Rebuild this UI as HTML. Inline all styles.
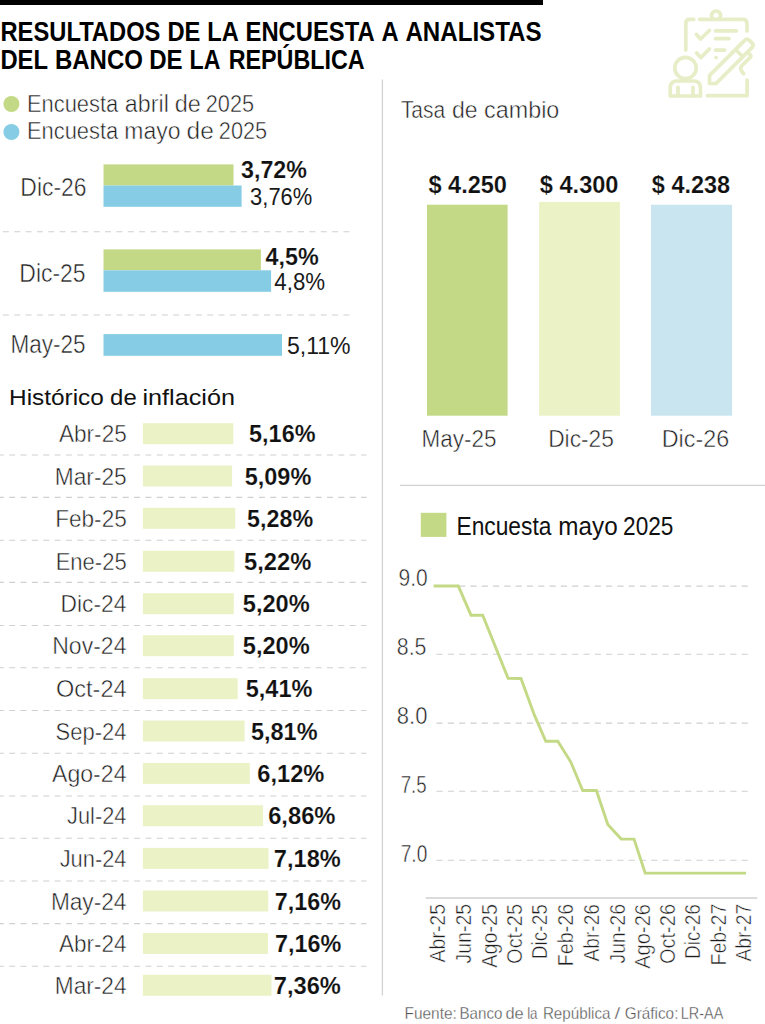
<!DOCTYPE html>
<html><head><meta charset="utf-8"><title>Encuesta Banco de la República</title>
<style>
html,body{margin:0;padding:0;background:#fff;}
body{width:765px;height:1024px;overflow:hidden;}
svg{display:block;font-family:"Liberation Sans",sans-serif;}
</style></head><body>
<svg width="765" height="1024" viewBox="0 0 765 1024">
<rect width="765" height="1024" fill="#fff"/>
<rect x="0.00" y="0.00" width="543.00" height="5.00" fill="#000"/>
<text x="0.46" y="41.00" font-size="27.62" font-weight="bold" fill="#000" textLength="160.00" lengthAdjust="spacingAndGlyphs">RESULTADOS</text>
<text x="167.46" y="41.00" font-size="27.62" font-weight="bold" fill="#000" textLength="32.97" lengthAdjust="spacingAndGlyphs">DE</text>
<text x="207.36" y="41.00" font-size="27.62" font-weight="bold" fill="#000" textLength="31.50" lengthAdjust="spacingAndGlyphs">LA</text>
<text x="245.55" y="41.00" font-size="27.62" font-weight="bold" fill="#000" textLength="129.18" lengthAdjust="spacingAndGlyphs">ENCUESTA</text>
<text x="381.41" y="41.00" font-size="27.62" font-weight="bold" fill="#000" textLength="17.14" lengthAdjust="spacingAndGlyphs">A</text>
<text x="405.40" y="41.00" font-size="27.62" font-weight="bold" fill="#000" textLength="136.22" lengthAdjust="spacingAndGlyphs">ANALISTAS</text>
<text x="0.45" y="69.00" font-size="27.62" font-weight="bold" fill="#000" textLength="47.56" lengthAdjust="spacingAndGlyphs">DEL</text>
<text x="54.94" y="69.00" font-size="27.62" font-weight="bold" fill="#000" textLength="87.96" lengthAdjust="spacingAndGlyphs">BANCO</text>
<text x="149.14" y="69.00" font-size="27.62" font-weight="bold" fill="#000" textLength="33.41" lengthAdjust="spacingAndGlyphs">DE</text>
<text x="189.50" y="69.00" font-size="27.62" font-weight="bold" fill="#000" textLength="30.85" lengthAdjust="spacingAndGlyphs">LA</text>
<text x="228.68" y="69.00" font-size="27.62" font-weight="bold" fill="#000" textLength="135.98" lengthAdjust="spacingAndGlyphs">REPÚBLICA</text>
<circle cx="11.4" cy="104" r="8" fill="#c4d985"/>
<circle cx="11.4" cy="132" r="8" fill="#86cce4"/>
<text x="26.95" y="111.50" font-size="23.98" font-weight="normal" fill="#1e1e1e" textLength="91.34" lengthAdjust="spacingAndGlyphs" stroke="#fff" stroke-width="0.5">Encuesta</text>
<text x="124.87" y="111.50" font-size="23.98" font-weight="normal" fill="#1e1e1e" textLength="43.94" lengthAdjust="spacingAndGlyphs" stroke="#fff" stroke-width="0.5">abril</text>
<text x="174.66" y="111.50" font-size="23.98" font-weight="normal" fill="#1e1e1e" textLength="26.05" lengthAdjust="spacingAndGlyphs" stroke="#fff" stroke-width="0.5">de</text>
<text x="205.71" y="111.50" font-size="23.98" font-weight="normal" fill="#1e1e1e" textLength="48.35" lengthAdjust="spacingAndGlyphs" stroke="#fff" stroke-width="0.5">2025</text>
<text x="26.95" y="139.00" font-size="23.98" font-weight="normal" fill="#1e1e1e" textLength="91.34" lengthAdjust="spacingAndGlyphs" stroke="#fff" stroke-width="0.5">Encuesta</text>
<text x="124.31" y="139.00" font-size="23.98" font-weight="normal" fill="#1e1e1e" textLength="56.12" lengthAdjust="spacingAndGlyphs" stroke="#fff" stroke-width="0.5">mayo</text>
<text x="186.62" y="139.00" font-size="23.98" font-weight="normal" fill="#1e1e1e" textLength="27.24" lengthAdjust="spacingAndGlyphs" stroke="#fff" stroke-width="0.5">de</text>
<text x="218.81" y="139.00" font-size="23.98" font-weight="normal" fill="#1e1e1e" textLength="48.35" lengthAdjust="spacingAndGlyphs" stroke="#fff" stroke-width="0.5">2025</text>
<rect x="103.50" y="164.40" width="130.00" height="21.10" fill="#c4d985"/>
<rect x="103.50" y="185.50" width="138.10" height="21.30" fill="#86cce4"/>
<rect x="103.50" y="249.40" width="157.40" height="20.90" fill="#c4d985"/>
<rect x="103.50" y="270.30" width="167.60" height="21.50" fill="#86cce4"/>
<rect x="103.50" y="334.10" width="178.50" height="21.70" fill="#86cce4"/>
<text x="20.37" y="195.60" font-size="25.44" font-weight="normal" fill="#1e1e1e" textLength="66.14" lengthAdjust="spacingAndGlyphs" stroke="#fff" stroke-width="0.5">Dic-26</text>
<text x="19.37" y="282.00" font-size="25.44" font-weight="normal" fill="#1e1e1e" textLength="66.25" lengthAdjust="spacingAndGlyphs" stroke="#fff" stroke-width="0.5">Dic-25</text>
<text x="10.40" y="353.00" font-size="25.44" font-weight="normal" fill="#1e1e1e" textLength="75.20" lengthAdjust="spacingAndGlyphs" stroke="#fff" stroke-width="0.5">May-25</text>
<text x="241.02" y="177.90" font-size="23.98" font-weight="bold" fill="#111" textLength="65.87" lengthAdjust="spacingAndGlyphs" stroke="#fff" stroke-width="0.15">3,72%</text>
<text x="250.12" y="205.30" font-size="23.98" font-weight="normal" fill="#1a1a1a" textLength="62.15" lengthAdjust="spacingAndGlyphs">3,76%</text>
<text x="265.55" y="265.40" font-size="23.98" font-weight="bold" fill="#111" textLength="53.12" lengthAdjust="spacingAndGlyphs" stroke="#fff" stroke-width="0.15">4,5%</text>
<text x="274.35" y="289.90" font-size="23.98" font-weight="normal" fill="#1a1a1a" textLength="50.81" lengthAdjust="spacingAndGlyphs">4,8%</text>
<text x="286.88" y="353.70" font-size="23.98" font-weight="normal" fill="#1a1a1a" textLength="63.76" lengthAdjust="spacingAndGlyphs">5,11%</text>
<line x1="2.90" y1="231.80" x2="349.80" y2="231.80" stroke="#d0d0d0" stroke-width="1.10" stroke-dasharray="6.00 5.35" stroke-dashoffset="0.00"/>
<line x1="2.90" y1="315.00" x2="349.80" y2="315.00" stroke="#d0d0d0" stroke-width="1.10" stroke-dasharray="6.00 5.35" stroke-dashoffset="0.00"/>
<text x="9.05" y="404.80" font-size="22.53" font-weight="normal" fill="#111" textLength="94.82" lengthAdjust="spacingAndGlyphs">Histórico</text>
<text x="110.14" y="404.80" font-size="22.53" font-weight="normal" fill="#111" textLength="26.59" lengthAdjust="spacingAndGlyphs">de</text>
<text x="142.46" y="404.80" font-size="22.53" font-weight="normal" fill="#111" textLength="92.56" lengthAdjust="spacingAndGlyphs">inflación</text>
<rect x="142.90" y="423.20" width="90.40" height="21.00" fill="#ebf2c6"/>
<text x="59.00" y="442.20" font-size="24.71" font-weight="normal" fill="#1e1e1e" textLength="67.74" lengthAdjust="spacingAndGlyphs" stroke="#fff" stroke-width="0.5">Abr-25</text>
<text x="249.10" y="442.20" font-size="23.98" font-weight="bold" fill="#111" textLength="66.40" lengthAdjust="spacingAndGlyphs" stroke="#fff" stroke-width="0.15">5,16%</text>
<rect x="142.90" y="465.50" width="89.20" height="21.00" fill="#ebf2c6"/>
<text x="54.78" y="484.50" font-size="24.71" font-weight="normal" fill="#1e1e1e" textLength="71.99" lengthAdjust="spacingAndGlyphs" stroke="#fff" stroke-width="0.5">Mar-25</text>
<text x="244.70" y="484.50" font-size="23.98" font-weight="bold" fill="#111" textLength="66.60" lengthAdjust="spacingAndGlyphs" stroke="#fff" stroke-width="0.15">5,09%</text>
<rect x="142.90" y="507.80" width="92.30" height="21.00" fill="#ebf2c6"/>
<text x="55.19" y="526.80" font-size="24.71" font-weight="normal" fill="#1e1e1e" textLength="71.59" lengthAdjust="spacingAndGlyphs" stroke="#fff" stroke-width="0.5">Feb-25</text>
<text x="247.10" y="526.80" font-size="23.98" font-weight="bold" fill="#111" textLength="65.99" lengthAdjust="spacingAndGlyphs" stroke="#fff" stroke-width="0.15">5,28%</text>
<rect x="142.90" y="550.80" width="91.50" height="21.00" fill="#ebf2c6"/>
<text x="55.64" y="569.80" font-size="24.71" font-weight="normal" fill="#1e1e1e" textLength="71.04" lengthAdjust="spacingAndGlyphs" stroke="#fff" stroke-width="0.5">Ene-25</text>
<text x="244.09" y="569.80" font-size="23.98" font-weight="bold" fill="#111" textLength="67.21" lengthAdjust="spacingAndGlyphs" stroke="#fff" stroke-width="0.15">5,22%</text>
<rect x="142.90" y="593.20" width="90.90" height="21.00" fill="#ebf2c6"/>
<text x="60.58" y="612.20" font-size="24.71" font-weight="normal" fill="#1e1e1e" textLength="65.90" lengthAdjust="spacingAndGlyphs" stroke="#fff" stroke-width="0.5">Dic-24</text>
<text x="242.79" y="612.20" font-size="23.98" font-weight="bold" fill="#111" textLength="66.91" lengthAdjust="spacingAndGlyphs" stroke="#fff" stroke-width="0.15">5,20%</text>
<rect x="142.90" y="635.20" width="90.90" height="21.00" fill="#ebf2c6"/>
<text x="52.26" y="654.20" font-size="24.71" font-weight="normal" fill="#1e1e1e" textLength="74.20" lengthAdjust="spacingAndGlyphs" stroke="#fff" stroke-width="0.5">Nov-24</text>
<text x="242.79" y="654.20" font-size="23.98" font-weight="bold" fill="#111" textLength="66.91" lengthAdjust="spacingAndGlyphs" stroke="#fff" stroke-width="0.15">5,20%</text>
<rect x="142.90" y="678.20" width="94.80" height="21.00" fill="#ebf2c6"/>
<text x="56.04" y="697.20" font-size="24.71" font-weight="normal" fill="#1e1e1e" textLength="70.49" lengthAdjust="spacingAndGlyphs" stroke="#fff" stroke-width="0.5">Oct-24</text>
<text x="245.69" y="697.20" font-size="23.98" font-weight="bold" fill="#111" textLength="66.70" lengthAdjust="spacingAndGlyphs" stroke="#fff" stroke-width="0.15">5,41%</text>
<rect x="142.90" y="720.50" width="101.70" height="21.00" fill="#ebf2c6"/>
<text x="55.61" y="739.50" font-size="24.71" font-weight="normal" fill="#1e1e1e" textLength="70.84" lengthAdjust="spacingAndGlyphs" stroke="#fff" stroke-width="0.5">Sep-24</text>
<text x="251.00" y="739.50" font-size="23.98" font-weight="bold" fill="#111" textLength="66.50" lengthAdjust="spacingAndGlyphs" stroke="#fff" stroke-width="0.15">5,81%</text>
<rect x="142.90" y="762.90" width="106.90" height="21.00" fill="#ebf2c6"/>
<text x="52.00" y="781.90" font-size="24.71" font-weight="normal" fill="#1e1e1e" textLength="74.49" lengthAdjust="spacingAndGlyphs" stroke="#fff" stroke-width="0.5">Ago-24</text>
<text x="257.27" y="781.90" font-size="23.98" font-weight="bold" fill="#111" textLength="67.13" lengthAdjust="spacingAndGlyphs" stroke="#fff" stroke-width="0.15">6,12%</text>
<rect x="142.90" y="805.20" width="120.20" height="21.00" fill="#ebf2c6"/>
<text x="67.07" y="824.20" font-size="24.71" font-weight="normal" fill="#1e1e1e" textLength="59.35" lengthAdjust="spacingAndGlyphs" stroke="#fff" stroke-width="0.5">Jul-24</text>
<text x="268.17" y="824.20" font-size="23.98" font-weight="bold" fill="#111" textLength="67.34" lengthAdjust="spacingAndGlyphs" stroke="#fff" stroke-width="0.15">6,86%</text>
<rect x="142.90" y="847.90" width="125.60" height="21.00" fill="#ebf2c6"/>
<text x="59.67" y="866.90" font-size="24.71" font-weight="normal" fill="#1e1e1e" textLength="66.84" lengthAdjust="spacingAndGlyphs" stroke="#fff" stroke-width="0.5">Jun-24</text>
<text x="273.86" y="866.90" font-size="23.98" font-weight="bold" fill="#111" textLength="66.84" lengthAdjust="spacingAndGlyphs" stroke="#fff" stroke-width="0.15">7,18%</text>
<rect x="142.90" y="890.50" width="125.30" height="21.00" fill="#ebf2c6"/>
<text x="50.89" y="909.50" font-size="24.71" font-weight="normal" fill="#1e1e1e" textLength="75.58" lengthAdjust="spacingAndGlyphs" stroke="#fff" stroke-width="0.5">May-24</text>
<text x="274.87" y="909.50" font-size="23.98" font-weight="bold" fill="#111" textLength="66.13" lengthAdjust="spacingAndGlyphs" stroke="#fff" stroke-width="0.15">7,16%</text>
<rect x="142.90" y="933.00" width="125.10" height="21.00" fill="#ebf2c6"/>
<text x="59.00" y="952.00" font-size="24.71" font-weight="normal" fill="#1e1e1e" textLength="67.51" lengthAdjust="spacingAndGlyphs" stroke="#fff" stroke-width="0.5">Abr-24</text>
<text x="275.07" y="952.00" font-size="23.98" font-weight="bold" fill="#111" textLength="66.23" lengthAdjust="spacingAndGlyphs" stroke="#fff" stroke-width="0.15">7,16%</text>
<rect x="142.90" y="974.80" width="128.60" height="21.00" fill="#ebf2c6"/>
<text x="54.79" y="993.80" font-size="24.71" font-weight="normal" fill="#1e1e1e" textLength="71.75" lengthAdjust="spacingAndGlyphs" stroke="#fff" stroke-width="0.5">Mar-24</text>
<text x="273.85" y="993.80" font-size="23.98" font-weight="bold" fill="#111" textLength="67.05" lengthAdjust="spacingAndGlyphs" stroke="#fff" stroke-width="0.15">7,36%</text>
<line x1="0.00" y1="455.00" x2="366.40" y2="455.00" stroke="#d0d0d0" stroke-width="1.10" stroke-dasharray="6.00 5.35" stroke-dashoffset="2.15"/>
<line x1="0.00" y1="497.40" x2="366.40" y2="497.40" stroke="#d0d0d0" stroke-width="1.10" stroke-dasharray="6.00 5.35" stroke-dashoffset="2.15"/>
<line x1="0.00" y1="540.20" x2="366.40" y2="540.20" stroke="#d0d0d0" stroke-width="1.10" stroke-dasharray="6.00 5.35" stroke-dashoffset="2.15"/>
<line x1="0.00" y1="582.40" x2="366.40" y2="582.40" stroke="#d0d0d0" stroke-width="1.10" stroke-dasharray="6.00 5.35" stroke-dashoffset="2.15"/>
<line x1="0.00" y1="625.50" x2="366.40" y2="625.50" stroke="#d0d0d0" stroke-width="1.10" stroke-dasharray="6.00 5.35" stroke-dashoffset="2.15"/>
<line x1="0.00" y1="667.80" x2="366.40" y2="667.80" stroke="#d0d0d0" stroke-width="1.10" stroke-dasharray="6.00 5.35" stroke-dashoffset="2.15"/>
<line x1="0.00" y1="710.50" x2="366.40" y2="710.50" stroke="#d0d0d0" stroke-width="1.10" stroke-dasharray="6.00 5.35" stroke-dashoffset="2.15"/>
<line x1="0.00" y1="753.30" x2="366.40" y2="753.30" stroke="#d0d0d0" stroke-width="1.10" stroke-dasharray="6.00 5.35" stroke-dashoffset="2.15"/>
<line x1="0.00" y1="796.00" x2="366.40" y2="796.00" stroke="#d0d0d0" stroke-width="1.10" stroke-dasharray="6.00 5.35" stroke-dashoffset="2.15"/>
<line x1="0.00" y1="838.30" x2="366.40" y2="838.30" stroke="#d0d0d0" stroke-width="1.10" stroke-dasharray="6.00 5.35" stroke-dashoffset="2.15"/>
<line x1="0.00" y1="881.00" x2="366.40" y2="881.00" stroke="#d0d0d0" stroke-width="1.10" stroke-dasharray="6.00 5.35" stroke-dashoffset="2.15"/>
<line x1="0.00" y1="923.60" x2="366.40" y2="923.60" stroke="#d0d0d0" stroke-width="1.10" stroke-dasharray="6.00 5.35" stroke-dashoffset="2.15"/>
<line x1="0.00" y1="966.30" x2="366.40" y2="966.30" stroke="#d0d0d0" stroke-width="1.10" stroke-dasharray="6.00 5.35" stroke-dashoffset="2.15"/>
<line x1="382.4" y1="79.6" x2="382.4" y2="995.6" stroke="#d2d2d2" stroke-width="1.3"/>
<text x="400.88" y="117.70" font-size="24.71" font-weight="normal" fill="#1e1e1e" textLength="44.27" lengthAdjust="spacingAndGlyphs" stroke="#fff" stroke-width="0.5">Tasa</text>
<text x="451.98" y="117.70" font-size="24.71" font-weight="normal" fill="#1e1e1e" textLength="25.61" lengthAdjust="spacingAndGlyphs" stroke="#fff" stroke-width="0.5">de</text>
<text x="484.07" y="117.70" font-size="24.71" font-weight="normal" fill="#1e1e1e" textLength="75.24" lengthAdjust="spacingAndGlyphs" stroke="#fff" stroke-width="0.5">cambio</text>
<text x="428.45" y="193.00" font-size="23.98" font-weight="bold" fill="#111" textLength="78.53" lengthAdjust="spacingAndGlyphs" stroke="#fff" stroke-width="0.15">$ 4.250</text>
<text x="539.85" y="193.00" font-size="23.98" font-weight="bold" fill="#111" textLength="78.63" lengthAdjust="spacingAndGlyphs" stroke="#fff" stroke-width="0.15">$ 4.300</text>
<text x="651.85" y="193.00" font-size="23.98" font-weight="bold" fill="#111" textLength="78.29" lengthAdjust="spacingAndGlyphs" stroke="#fff" stroke-width="0.15">$ 4.238</text>
<rect x="427.00" y="204.70" width="80.60" height="211.00" fill="#c4d985"/>
<rect x="539.10" y="201.90" width="80.80" height="213.80" fill="#ebf2c6"/>
<rect x="651.00" y="204.70" width="81.10" height="211.00" fill="#c9e6f0"/>
<text x="421.50" y="446.80" font-size="23.98" font-weight="normal" fill="#1e1e1e" textLength="74.89" lengthAdjust="spacingAndGlyphs" stroke="#fff" stroke-width="0.5">May-25</text>
<text x="548.18" y="447.20" font-size="23.98" font-weight="normal" fill="#1e1e1e" textLength="65.72" lengthAdjust="spacingAndGlyphs" stroke="#fff" stroke-width="0.5">Dic-25</text>
<text x="661.73" y="447.20" font-size="23.98" font-weight="normal" fill="#1e1e1e" textLength="67.39" lengthAdjust="spacingAndGlyphs" stroke="#fff" stroke-width="0.5">Dic-26</text>
<line x1="400" y1="485.3" x2="765" y2="485.3" stroke="#d2d2d2" stroke-width="1.3"/>
<rect x="420.80" y="512.80" width="25.60" height="24.10" fill="#c4d985"/>
<text x="456.48" y="534.60" font-size="25.15" font-weight="normal" fill="#111" textLength="94.91" lengthAdjust="spacingAndGlyphs">Encuesta</text>
<text x="558.32" y="534.60" font-size="25.15" font-weight="normal" fill="#111" textLength="59.36" lengthAdjust="spacingAndGlyphs">mayo</text>
<text x="623.07" y="534.60" font-size="25.15" font-weight="normal" fill="#111" textLength="50.33" lengthAdjust="spacingAndGlyphs">2025</text>
<text x="398.46" y="585.90" font-size="24.27" font-weight="normal" fill="#1e1e1e" textLength="29.18" lengthAdjust="spacingAndGlyphs" stroke="#fff" stroke-width="0.5">9.0</text>
<text x="396.84" y="654.80" font-size="24.27" font-weight="normal" fill="#1e1e1e" textLength="29.61" lengthAdjust="spacingAndGlyphs" stroke="#fff" stroke-width="0.5">8.5</text>
<text x="396.81" y="723.90" font-size="24.27" font-weight="normal" fill="#1e1e1e" textLength="30.56" lengthAdjust="spacingAndGlyphs" stroke="#fff" stroke-width="0.5">8.0</text>
<text x="400.77" y="792.70" font-size="24.27" font-weight="normal" fill="#1e1e1e" textLength="25.88" lengthAdjust="spacingAndGlyphs" stroke="#fff" stroke-width="0.5">7.5</text>
<text x="400.75" y="861.50" font-size="24.27" font-weight="normal" fill="#1e1e1e" textLength="26.52" lengthAdjust="spacingAndGlyphs" stroke="#fff" stroke-width="0.5">7.0</text>
<line x1="435.00" y1="586.10" x2="747.80" y2="586.10" stroke="#d0d0d0" stroke-width="1.10" stroke-dasharray="6.20 5.10" stroke-dashoffset="9.80"/>
<line x1="435.00" y1="654.20" x2="747.80" y2="654.20" stroke="#d0d0d0" stroke-width="1.10" stroke-dasharray="6.20 5.10" stroke-dashoffset="9.80"/>
<line x1="435.00" y1="723.10" x2="747.80" y2="723.10" stroke="#d0d0d0" stroke-width="1.10" stroke-dasharray="6.20 5.10" stroke-dashoffset="9.80"/>
<line x1="435.00" y1="791.20" x2="747.80" y2="791.20" stroke="#d0d0d0" stroke-width="1.10" stroke-dasharray="6.20 5.10" stroke-dashoffset="9.80"/>
<line x1="435.00" y1="860.30" x2="747.80" y2="860.30" stroke="#d0d0d0" stroke-width="1.10" stroke-dasharray="6.20 5.10" stroke-dashoffset="9.80"/>
<line x1="425.6" y1="898" x2="757.2" y2="898" stroke="#cfcfcf" stroke-width="1.3"/>
<polyline points="433.6,586.0 458.3,586.0 471.0,615.2 482.7,615.2 508.1,678.2 521.0,678.5 534.3,714.9 545.8,741.3 557.8,741.3 570.7,761.8 582.7,790.5 596.4,790.5 607.8,824.5 621.2,839.1 634.0,839.1 645.2,873.1 746.1,873.1" fill="none" stroke="#c4d985" stroke-width="2.9" stroke-linejoin="miter"/>
<text transform="translate(445.10 0) rotate(-90)" x="-962.40" y="0" font-size="22.38" fill="#1e1e1e" stroke="#fff" stroke-width="0.5" textLength="58.41" lengthAdjust="spacingAndGlyphs">Abr-25</text>
<text transform="translate(470.70 0) rotate(-90)" x="-963.39" y="0" font-size="22.38" fill="#1e1e1e" stroke="#fff" stroke-width="0.5" textLength="59.42" lengthAdjust="spacingAndGlyphs">Jun-25</text>
<text transform="translate(496.60 0) rotate(-90)" x="-967.80" y="0" font-size="22.38" fill="#1e1e1e" stroke="#fff" stroke-width="0.5" textLength="63.79" lengthAdjust="spacingAndGlyphs">Ago-25</text>
<text transform="translate(521.70 0) rotate(-90)" x="-963.90" y="0" font-size="22.38" fill="#1e1e1e" stroke="#fff" stroke-width="0.5" textLength="59.92" lengthAdjust="spacingAndGlyphs">Oct-25</text>
<text transform="translate(547.40 0) rotate(-90)" x="-959.33" y="0" font-size="22.38" fill="#1e1e1e" stroke="#fff" stroke-width="0.5" textLength="55.29" lengthAdjust="spacingAndGlyphs">Dic-25</text>
<text transform="translate(573.30 0) rotate(-90)" x="-966.17" y="0" font-size="22.38" fill="#1e1e1e" stroke="#fff" stroke-width="0.5" textLength="62.23" lengthAdjust="spacingAndGlyphs">Feb-26</text>
<text transform="translate(599.30 0) rotate(-90)" x="-961.40" y="0" font-size="22.38" fill="#1e1e1e" stroke="#fff" stroke-width="0.5" textLength="57.40" lengthAdjust="spacingAndGlyphs">Abr-26</text>
<text transform="translate(624.60 0) rotate(-90)" x="-963.59" y="0" font-size="22.38" fill="#1e1e1e" stroke="#fff" stroke-width="0.5" textLength="59.63" lengthAdjust="spacingAndGlyphs">Jun-26</text>
<text transform="translate(650.20 0) rotate(-90)" x="-968.80" y="0" font-size="22.38" fill="#1e1e1e" stroke="#fff" stroke-width="0.5" textLength="64.80" lengthAdjust="spacingAndGlyphs">Ago-26</text>
<text transform="translate(675.30 0) rotate(-90)" x="-964.00" y="0" font-size="22.38" fill="#1e1e1e" stroke="#fff" stroke-width="0.5" textLength="60.02" lengthAdjust="spacingAndGlyphs">Oct-26</text>
<text transform="translate(700.40 0) rotate(-90)" x="-959.12" y="0" font-size="22.38" fill="#1e1e1e" stroke="#fff" stroke-width="0.5" textLength="55.08" lengthAdjust="spacingAndGlyphs">Dic-26</text>
<text transform="translate(726.30 0) rotate(-90)" x="-965.46" y="0" font-size="22.38" fill="#1e1e1e" stroke="#fff" stroke-width="0.5" textLength="61.70" lengthAdjust="spacingAndGlyphs">Feb-27</text>
<text transform="translate(751.40 0) rotate(-90)" x="-961.60" y="0" font-size="22.38" fill="#1e1e1e" stroke="#fff" stroke-width="0.5" textLength="57.79" lengthAdjust="spacingAndGlyphs">Abr-27</text>
<text x="404.57" y="1018.90" font-size="16.28" font-weight="normal" fill="#555" textLength="52.24" lengthAdjust="spacingAndGlyphs" stroke="#fff" stroke-width="0.3">Fuente:</text>
<text x="459.49" y="1018.90" font-size="16.28" font-weight="normal" fill="#555" textLength="42.92" lengthAdjust="spacingAndGlyphs" stroke="#fff" stroke-width="0.3">Banco</text>
<text x="505.44" y="1018.90" font-size="16.28" font-weight="normal" fill="#555" textLength="18.23" lengthAdjust="spacingAndGlyphs" stroke="#fff" stroke-width="0.3">de</text>
<text x="527.13" y="1018.90" font-size="16.28" font-weight="normal" fill="#555" textLength="10.41" lengthAdjust="spacingAndGlyphs" stroke="#fff" stroke-width="0.3">la</text>
<text x="542.88" y="1018.90" font-size="16.28" font-weight="normal" fill="#555" textLength="67.55" lengthAdjust="spacingAndGlyphs" stroke="#fff" stroke-width="0.3">República</text>
<text x="614.60" y="1018.90" font-size="16.28" font-weight="normal" fill="#555" textLength="5.75" lengthAdjust="spacingAndGlyphs" stroke="#fff" stroke-width="0.3">/</text>
<text x="624.84" y="1018.90" font-size="16.28" font-weight="normal" fill="#555" textLength="53.56" lengthAdjust="spacingAndGlyphs" stroke="#fff" stroke-width="0.3">Gráfico:</text>
<text x="680.85" y="1018.90" font-size="16.28" font-weight="normal" fill="#555" textLength="42.46" lengthAdjust="spacingAndGlyphs" stroke="#fff" stroke-width="0.3">LR-AA</text>
<g fill="none" stroke="#e7edc6" stroke-width="3.7" stroke-linecap="round" stroke-linejoin="round">
<path d="M685.8,50 L685.8,23.4 Q685.8,19.3 689.9,19.3 L693.8,19.3"/>
<path d="M699.6,19.3 L742.9,19.3 Q747,19.3 747,23.4 L747,31"/>
<path d="M713.7,19.3 A4.5,4.5 0 1 1 718.5,19.3"/>
<path d="M696.4,34.4 L700.6,39 L709.4,30.5"/>
<path d="M696.6,53 L700.8,57.6 L709.4,49"/>
<path d="M715.5,30.8 L736.4,30.8"/>
<path d="M715.5,38.7 L728.9,38.7"/>
<path d="M715.5,50.1 L724.6,50.1"/>
<path d="M716.1,57.6 L716.1,57.6"/>
<path d="M747.1,80 L747.1,95.7 L707.5,95.7"/>
<circle cx="685.5" cy="68" r="10.7"/>
<path d="M670.2,96 L670.2,88 Q670.2,81 677.2,81 L693.5,81 Q700.5,81 700.5,88 L700.5,96 Z"/>
<path d="M678,87.4 L678,96"/>
<path d="M693,87.4 L693,96"/>
<path d="M709.5,75.5 L744.88,40.12 Q747,38 749.12,40.12 L752.18,43.18 Q754.3,45.3 752.18,47.42 L716.1,83.5 L709.5,83.5 Z"/>
<path d="M735.5,49.5 L742.8,56.8"/>
<path d="M748,52.5 L750.6,55.3 Q751.3,56.3 750.3,57.3 L741.3,66.3 Q739.6,69.6 743.6,73.6"/>
</g>
</svg>
</body></html>
